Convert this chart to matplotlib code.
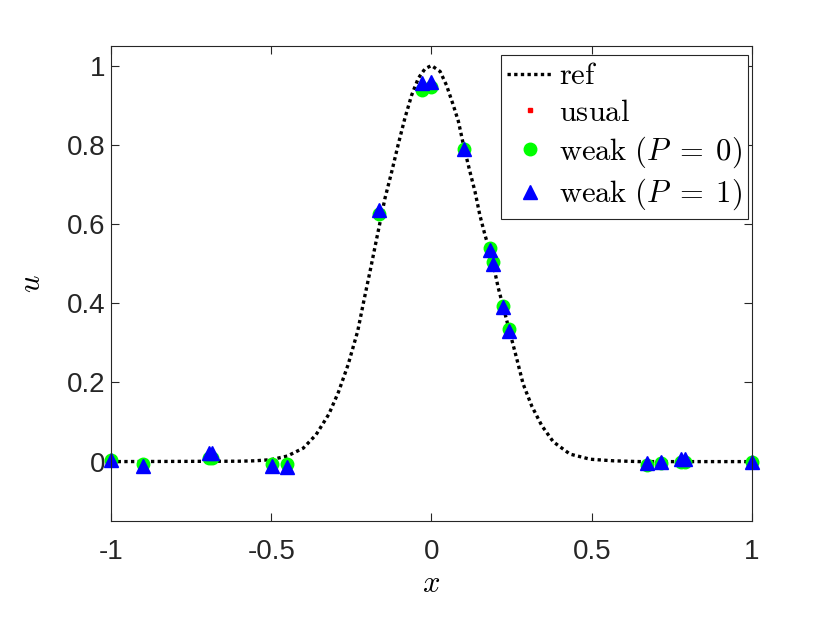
import matplotlib
matplotlib.use("Agg")
import matplotlib.pyplot as plt

plt.rcParams['font.family'] = ['Liberation Sans', 'DejaVu Sans']
plt.rcParams['mathtext.fontset'] = 'cm'
plt.rcParams['axes.unicode_minus'] = False

# reference curve
ref_x = [-1.0, -0.6, -0.55, -0.5, -0.45, -0.40, -0.36, -0.32, -0.29, -0.26, -0.23,
         -0.21, -0.19, -0.171, -0.145, -0.124, -0.104, -0.083, -0.062, -0.041, -0.02,
         0.0, 0.027, 0.047, 0.068, 0.084, 0.101, 0.120, 0.136, 0.151, 0.167, 0.183,
         0.193, 0.208, 0.224, 0.245, 0.266, 0.286, 0.313, 0.344, 0.380, 0.432, 0.495,
         0.567, 0.65, 1.0]
ref_u = [0.0, 0.001, 0.002, 0.005, 0.014, 0.034, 0.068, 0.12, 0.176, 0.245, 0.33,
         0.41, 0.487, 0.563, 0.665, 0.732, 0.80, 0.867, 0.925, 0.968, 0.992,
         1.0, 0.985, 0.95, 0.90, 0.859, 0.795, 0.732, 0.681, 0.622, 0.572, 0.528,
         0.497, 0.44, 0.39, 0.325, 0.26, 0.196, 0.14, 0.091, 0.05, 0.019, 0.006,
         0.002, 0.0, 0.0]

# sample nodes
x_nodes = [-1.0, -0.90, -0.695, -0.685, -0.499, -0.45, -0.164, -0.031, -0.002, 0.101,
           0.183, 0.191, 0.224, 0.243, 0.671, 0.715, 0.778, 0.792, 1.0]
u_usual = [0.003, -0.006, 0.009, 0.009, -0.006, -0.006, 0.624, 0.938, 0.945, 0.79,
           0.539, 0.505, 0.393, 0.335, -0.008, -0.003, -0.002, -0.002, 0.0]
u_weak0 = [0.003, -0.006, 0.009, 0.009, -0.006, -0.006, 0.624, 0.938, 0.945, 0.79,
           0.539, 0.505, 0.393, 0.335, -0.008, -0.003, -0.002, -0.002, 0.0]
u_weak1 = [0.005, -0.012, 0.022, 0.022, -0.010, -0.013, 0.635, 0.955, 0.958, 0.79,
           0.535, 0.50, 0.39, 0.33, -0.003, -0.002, 0.006, 0.006, 0.0]

fz = 20
gray = '#262626'

fig = plt.figure(figsize=(8.3, 6.23), dpi=100)
ax = fig.add_axes([0.1337, 0.1637, 0.7723, 0.7629])

ax.plot(ref_x, ref_u, color='k', linestyle=(0, (1, 1)), linewidth=2.4, label=r'$\mathrm{ref}$')
ax.plot(x_nodes, u_usual, 's', color='red', markersize=3.5, clip_on=False,
        label=r'$\mathrm{usual}$')
ax.plot(x_nodes, u_weak0, 'o', color='#00ff00', markersize=9, clip_on=False,
        label=r'$\mathrm{weak}\ (P\;=\;0)$')
ax.plot(x_nodes, u_weak1, '^', color='blue', markersize=10.5, clip_on=False,
        label=r'$\mathrm{weak}\ (P\;=\;1)$')

ax.set_xlim(-1, 1)
ax.set_ylim(-0.15, 1.05)
ax.set_xticks([-1, -0.5, 0, 0.5, 1])
ax.set_xticklabels(['-1', '-0.5', '0', '0.5', '1'])
ax.set_yticks([0, 0.2, 0.4, 0.6, 0.8, 1])
ax.set_yticklabels(['0', '0.2', '0.4', '0.6', '0.8', '1'])
ax.tick_params(direction='in', length=6, width=0.8, top=True, right=True,
               labelsize=fz, colors=gray)
ax.tick_params(axis='x', pad=13)
ax.tick_params(axis='y', pad=4)
for s in ax.spines.values():
    s.set_color(gray)
    s.set_linewidth(0.8)

ax.set_xlabel(r'$x$', fontsize=fz + 2, labelpad=3)
ax.set_ylabel(r'$u$', fontsize=fz + 2, labelpad=14)

leg = ax.legend(loc='upper right', bbox_to_anchor=(0.994, 0.98), borderaxespad=0,
                fontsize=fz + 2, fancybox=False, framealpha=1, edgecolor=gray,
                handlelength=1.5, handletextpad=0.2, labelspacing=0.22,
                borderpad=0.2)
leg.get_frame().set_linewidth(0.8)

fig.savefig('out.png', dpi=100)
plt.close(fig)
